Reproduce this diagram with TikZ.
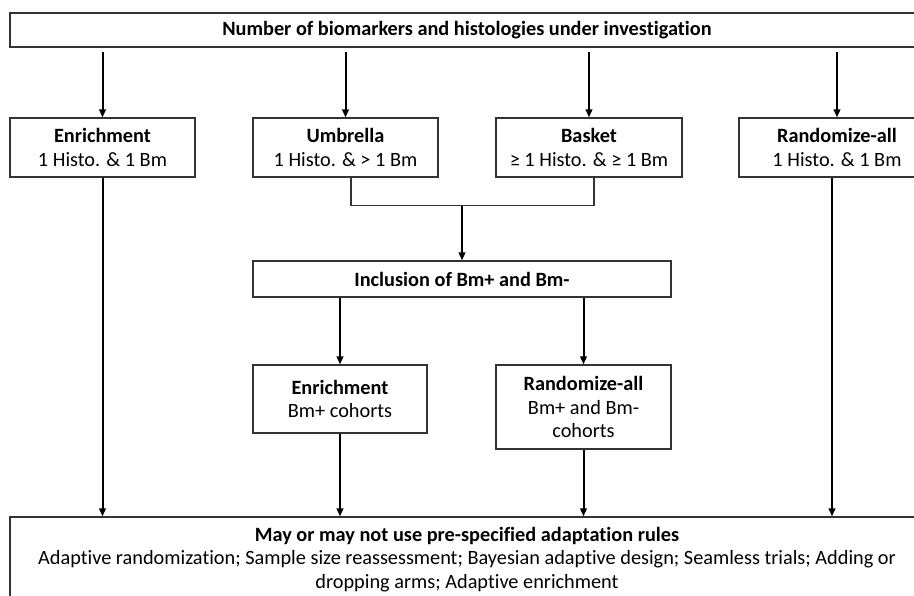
\documentclass[tikz,border=0pt]{standalone}
\usepackage{fontspec}
\setmainfont{Carlito}[Ligatures=NoCommon]
\usetikzlibrary{arrows.meta,calc}
\tikzset{
  box/.style={draw=black!80, line width=1.1pt, fill=white, align=center, inner sep=0pt,
              font=\fontsize{20.3}{23.5}\selectfont},
  arr/.style={line width=2pt, -{Triangle[length=8pt,width=6.5pt]}},
  thinln/.style={line width=1.1pt, draw=black!80}
}
\begin{document}
\begin{tikzpicture}[x=1pt,y=-1pt]
\useasboundingbox (0,0) rectangle (914,596);
\clip (0,0) rectangle (914,596);
\node[box, minimum width=914pt, minimum height=34pt] (top) at (467,30)
  {\textbf{Number of biomarkers and histologies under investigation}};
\node[box, minimum width=185pt, minimum height=59pt] (enr) at (102.5,147.5)
  {\textbf{Enrichment}\\1 Histo. \& 1 Bm};
\node[box, minimum width=185pt, minimum height=59pt] (umb) at (345.5,147.5)
  {\textbf{Umbrella}\\1 Histo. \& > 1 Bm};
\node[box, minimum width=186pt, minimum height=59pt] (bas) at (589,147.5)
  {\textbf{Basket}\\≥ 1 Histo. \& ≥ 1 Bm};
\node[box, minimum width=196pt, minimum height=59pt] (rnd) at (837,147.5)
  {\textbf{Randomize-all}\\1 Histo. \& 1 Bm};
\node[box, minimum width=418pt, minimum height=36pt] (inc) at (462,279)
  {\textbf{Inclusion of Bm+ and Bm-}};
\node[box, minimum width=174pt, minimum height=68pt] (enr2) at (340,399)
  {\textbf{Enrichment}\\Bm+ cohorts};
\node[box, minimum width=175pt, minimum height=84pt] (rnd2) at (583.5,407)
  {\textbf{Randomize-all}\\Bm+ and Bm-\\cohorts};
\node[box, minimum width=914pt, minimum height=85pt] (bot) at (467,559.5)
  {\textbf{May or may not use pre-specified adaptation rules}\\
   Adaptive randomization; Sample size reassessment; Bayesian adaptive design; Seamless trials; Adding or\\
   dropping arms; Adaptive enrichment};
% arrows from top
\draw[arr] ($(top.south -| enr.north)+(0,4)$) -- (enr.north);
\draw[arr] ($(top.south -| umb.north)+(0,4)$) -- (umb.north);
\draw[arr] ($(top.south -| bas.north)+(0,4)$) -- (bas.north);
\draw[arr] ($(top.south -| rnd.north)+(0,4)$) -- (rnd.north);
% merge
\coordinate (m1) at ($(umb.south)+(5.5,28)$);
\coordinate (m2) at ($(bas.south)+(5,28)$);
\draw[thinln] ($(umb.south)+(5.5,0)$) -- (m1) -- (m2) -- ($(bas.south)+(5,0)$);
\draw[arr] (m1 -| inc.north) -- (inc.north);
% from inclusion
\draw[arr] (inc.south -| enr2.north) -- (enr2.north);
\draw[arr] (inc.south -| rnd2.north) -- (rnd2.north);
% to bottom
\draw[arr] (enr.south) -- (bot.north -| enr.south);
\draw[arr] (enr2.south) -- (bot.north -| enr2.south);
\draw[arr] (rnd2.south) -- (bot.north -| rnd2.south);
\draw[arr] ($(rnd.south)+(-5,0)$) -- ($(bot.north -| rnd.south)+(-5,0)$);
\end{tikzpicture}
\end{document}
